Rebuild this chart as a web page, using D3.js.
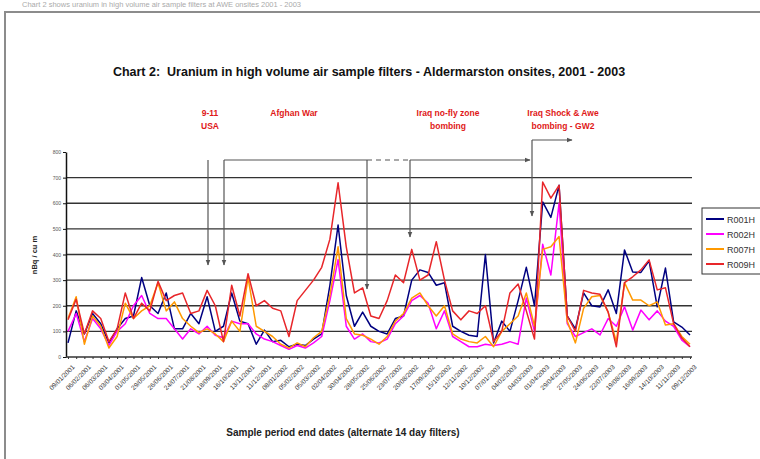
<!DOCTYPE html>
<html>
<head>
<meta charset="utf-8">
<script src="https://cdn.jsdelivr.net/npm/d3@7/dist/d3.min.js"></script>
<style>
  body { margin: 0; background: #fff; }
  svg { display: block; font-family: "Liberation Sans", Arial, sans-serif; }
</style>
</head>
<body>
<svg id="chart" width="760" height="459"></svg>
<script>
// sample period end dates (alternate 14 day filters)
const dates = [
  '09/01/2001','23/01/2001','06/02/2001','20/02/2001','06/03/2001','20/03/2001','03/04/2001','17/04/2001',
  '01/05/2001','15/05/2001','29/05/2001','12/06/2001','26/06/2001','10/07/2001','24/07/2001','07/08/2001',
  '21/08/2001','04/09/2001','18/09/2001','02/10/2001','16/10/2001','30/10/2001','13/11/2001','27/11/2001',
  '11/12/2001','25/12/2001','08/01/2002','22/01/2002','05/02/2002','19/02/2002','05/03/2002','19/03/2002',
  '02/04/2002','16/04/2002','30/04/2002','14/05/2002','28/05/2002','11/06/2002','25/06/2002','09/07/2002',
  '23/07/2002','06/08/2002','20/08/2002','03/09/2002','17/09/2002','01/10/2002','15/10/2002','29/10/2002',
  '12/11/2002','26/11/2002','10/12/2002','24/12/2002','07/01/2003','21/01/2003','04/02/2003','18/02/2003',
  '04/03/2003','18/03/2003','01/04/2003','15/04/2003','29/04/2003','13/05/2003','27/05/2003','10/06/2003',
  '24/06/2003','08/07/2003','22/07/2003','05/08/2003','19/08/2003','02/09/2003','16/09/2003','30/09/2003',
  '14/10/2003','28/10/2003','11/11/2003','25/11/2003','09/12/2003'
];

const r001h = [55,180,90,170,130,55,110,150,160,310,200,170,250,110,110,170,130,235,100,120,250,140,130,50,105,60,65,40,50,45,70,90,280,515,240,120,175,120,100,90,150,160,300,340,330,280,290,120,100,85,80,400,55,140,100,220,350,200,605,545,670,160,110,250,200,195,262,170,418,332,330,375,196,347,137,117,86];
const r002h = [100,170,60,150,110,45,100,130,200,240,170,150,150,110,70,110,90,120,85,75,140,130,130,90,70,60,45,30,45,35,55,80,220,380,120,70,90,60,55,70,130,160,220,240,210,110,180,80,60,40,40,50,45,50,60,50,230,100,440,320,600,130,80,95,110,86,150,120,196,105,183,145,180,140,120,66,40];
const r007h = [150,235,50,160,120,35,80,210,150,180,200,290,180,215,150,120,95,110,90,60,140,100,310,120,100,80,50,35,55,40,75,100,240,430,150,90,85,70,50,80,140,170,230,250,200,160,200,90,70,60,55,80,40,100,130,160,250,120,420,430,470,140,55,190,235,240,175,60,290,222,222,200,215,125,130,80,50];
const r009h = [145,225,90,180,150,60,110,250,150,210,180,295,220,240,250,170,180,260,200,60,280,160,325,200,220,190,180,80,220,260,300,350,460,680,430,250,270,160,150,220,320,290,420,300,320,450,300,180,145,180,170,200,60,100,250,285,180,70,683,620,670,160,100,260,250,245,175,40,290,313,340,379,262,270,130,74,40];

const seriesNames = ['R001H', 'R002H', 'R007H', 'R009H'];
const seriesValues = [r001h, r002h, r007h, r009h];
const seriesColors = ['#000080', '#ff00ff', '#ff9900', '#e8262a'];

const yTicks = [0, 100, 200, 300, 400, 500, 600, 700, 800];

// events marked on the chart
const eventLabels = [
  { lines: ['9-11', 'USA'], x: 210 },
  { lines: ['Afghan War'], x: 294 },
  { lines: ['Iraq no-fly zone', 'bombing'], x: 448 },
  { lines: ['Iraq Shock & Awe', 'bombing - GW2'], x: 563 }
];

const svg = d3.select('#chart');

const plot = { left: 66, right: 692, top: 152, bottom: 357 };

const x = d3.scalePoint()
  .domain(dates)
  .range([68, 690]);

const y = d3.scaleLinear()
  .domain([0, 800])
  .range([plot.bottom, plot.top]);

// arrowhead
svg.append('defs').append('marker')
  .attr('id', 'arrow')
  .attr('viewBox', '0 0 10 10')
  .attr('refX', 9).attr('refY', 5)
  .attr('markerWidth', 5).attr('markerHeight', 5)
  .attr('orient', 'auto')
  .append('path')
  .attr('d', 'M0,1 L10,5 L0,9 Z')
  .attr('fill', '#555');

// faint note above the frame
svg.append('text')
  .attr('x', 22).attr('y', 7)
  .attr('font-size', 7.5)
  .attr('fill', '#aaa')
  .text('Chart 2 shows uranium in high volume air sample filters at AWE onsites 2001 - 2003');

// outer frame
svg.append('rect')
  .attr('x', 5).attr('y', 12)
  .attr('width', 760).attr('height', 460)
  .attr('fill', '#fff')
  .attr('stroke', '#8c8c8c')
  .attr('stroke-width', 2);

// title
svg.append('text')
  .attr('x', 369).attr('y', 76)
  .attr('text-anchor', 'middle')
  .attr('font-size', 12.5)
  .attr('font-weight', 'bold')
  .attr('fill', '#111')
  .attr('xml:space', 'preserve')
  .text('Chart 2:  Uranium in high volume air sample filters - Aldermarston onsites, 2001 - 2003');

// gridlines
svg.append('g')
  .selectAll('line')
  .data(yTicks.filter(d => d > 0 && d < 800))
  .join('line')
  .attr('x1', plot.left).attr('x2', plot.right)
  .attr('y1', d => y(d)).attr('y2', d => y(d))
  .attr('stroke', '#333')
  .attr('stroke-width', 1.4);

// y axis
const yAxis = svg.append('g')
  .attr('transform', `translate(${plot.left},0)`)
  .call(d3.axisLeft(y).tickValues(yTicks).tickSize(3).tickSizeOuter(0));
yAxis.select('.domain').attr('stroke', '#111').attr('stroke-width', 1.5);
yAxis.selectAll('.tick line').attr('stroke', '#111');
yAxis.selectAll('text').attr('font-size', 5).attr('fill', '#555').attr('x', -5);

// x axis
const xAxis = svg.append('g')
  .attr('transform', `translate(0,${plot.bottom})`)
  .call(d3.axisBottom(x).tickSize(2).tickSizeOuter(0)
    .tickFormat((d, i) => i % 2 === 0 ? d : ''));
xAxis.select('.domain')
  .attr('d', `M${plot.left},0H${plot.right}`)
  .attr('stroke', '#333').attr('stroke-width', 1.3);
xAxis.selectAll('.tick line').attr('stroke', '#333');
xAxis.selectAll('text')
  .attr('font-size', 6.5)
  .attr('fill', '#333')
  .attr('text-anchor', 'end')
  .attr('dy', 0)
  .attr('transform', 'translate(3,7) rotate(-45)');

// axis titles
svg.append('text')
  .attr('transform', 'translate(37,255) rotate(-90)')
  .attr('text-anchor', 'middle')
  .attr('font-size', 7.5)
  .attr('font-weight', 'bold')
  .attr('fill', '#222')
  .text('nBq / cu m');

svg.append('text')
  .attr('x', 343).attr('y', 436)
  .attr('text-anchor', 'middle')
  .attr('font-size', 10)
  .attr('font-weight', 'bold')
  .attr('fill', '#222')
  .text('Sample period end dates (alternate 14 day filters)');

// series lines
const line = d3.line()
  .x((d, i) => x(dates[i]))
  .y(d => y(d));

svg.append('g')
  .selectAll('path')
  .data(seriesValues)
  .join('path')
  .attr('d', d => line(d))
  .attr('fill', 'none')
  .attr('stroke', (d, i) => seriesColors[i])
  .attr('stroke-width', 1.5)
  .attr('stroke-linejoin', 'round');

// event labels
const ev = svg.append('g')
  .attr('font-size', 8.5)
  .attr('font-weight', 'bold')
  .attr('fill', '#e01818')
  .attr('text-anchor', 'middle');
eventLabels.forEach(e => {
  e.lines.forEach((t, j) => {
    ev.append('text').attr('x', e.x).attr('y', 116 + j * 12.5).text(t);
  });
});

// event arrows
const arrows = svg.append('g')
  .attr('fill', 'none')
  .attr('stroke', '#555')
  .attr('stroke-width', 1.2);
arrows.append('line').attr('x1', 208).attr('y1', 160).attr('x2', 208).attr('y2', 265).attr('marker-end', 'url(#arrow)');
arrows.append('line').attr('x1', 224).attr('y1', 160).attr('x2', 367).attr('y2', 160);
arrows.append('line').attr('x1', 224).attr('y1', 160).attr('x2', 224).attr('y2', 265).attr('marker-end', 'url(#arrow)');
arrows.append('line').attr('x1', 367).attr('y1', 160).attr('x2', 367).attr('y2', 289).attr('marker-end', 'url(#arrow)');
arrows.append('line').attr('x1', 367).attr('y1', 160).attr('x2', 410).attr('y2', 160).attr('stroke-dasharray', '5,4');
arrows.append('line').attr('x1', 410).attr('y1', 160).attr('x2', 410).attr('y2', 237).attr('marker-end', 'url(#arrow)');
arrows.append('line').attr('x1', 410).attr('y1', 160).attr('x2', 530).attr('y2', 160).attr('marker-end', 'url(#arrow)');
arrows.append('line').attr('x1', 532).attr('y1', 140).attr('x2', 532).attr('y2', 216).attr('marker-end', 'url(#arrow)');
arrows.append('line').attr('x1', 532).attr('y1', 140).attr('x2', 572).attr('y2', 140).attr('marker-end', 'url(#arrow)');

// legend
const legend = svg.append('g').attr('transform', 'translate(702,208)');
legend.append('rect')
  .attr('width', 80).attr('height', 66)
  .attr('fill', '#fff')
  .attr('stroke', '#333')
  .attr('stroke-width', 1);
seriesNames.forEach((name, i) => {
  const g = legend.append('g').attr('transform', `translate(0,${11 + i * 15})`);
  g.append('line')
    .attr('x1', 4).attr('x2', 22)
    .attr('stroke', seriesColors[i]).attr('stroke-width', 2);
  g.append('text')
    .attr('x', 25).attr('y', 3.5)
    .attr('font-size', 9)
    .attr('fill', '#333')
    .text(name);
});
</script>
</body>
</html>
